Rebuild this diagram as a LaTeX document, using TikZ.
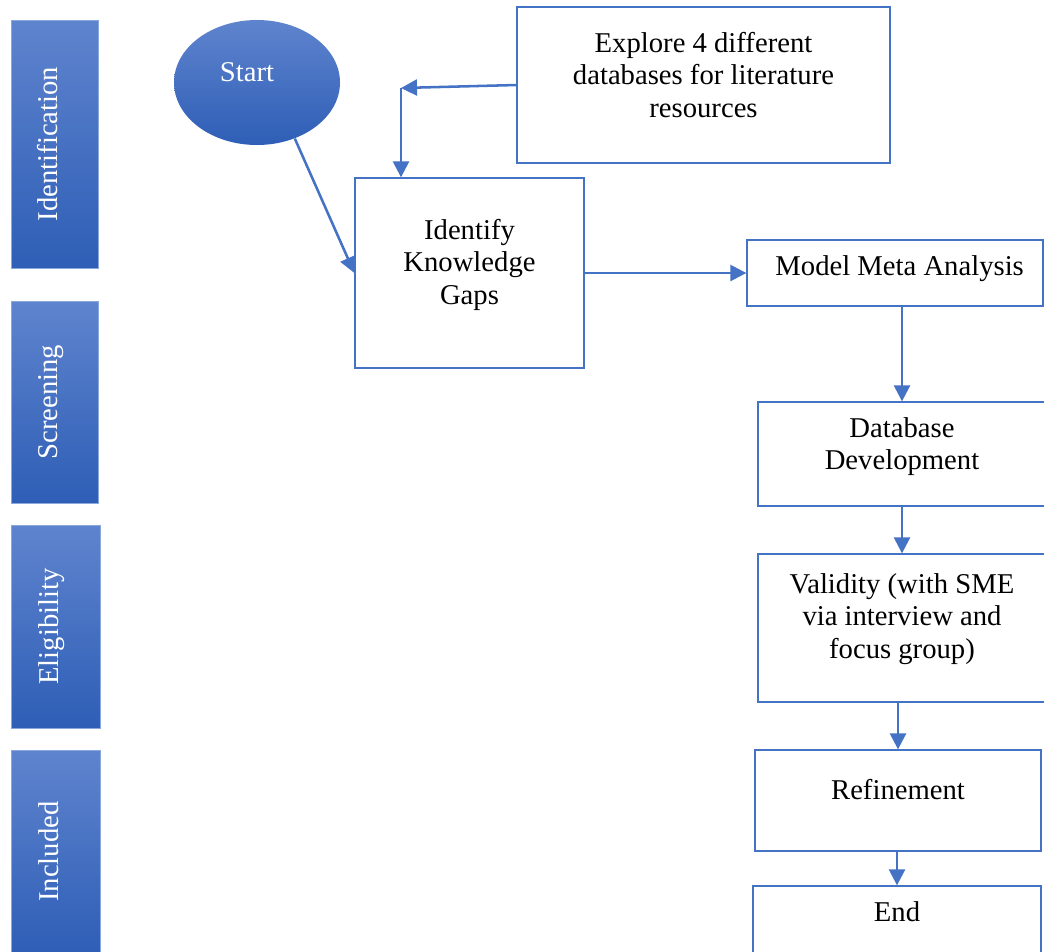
\documentclass[tikz,border=0pt]{standalone}
\usepackage{xcolor}
\usepackage{fontspec}
\setmainfont{Liberation Serif}
\usepackage{tikz}
\usetikzlibrary{arrows.meta,shapes.geometric}

\definecolor{flowblue}{HTML}{4472C4}
\definecolor{phasetop}{HTML}{5F84CE}
\definecolor{phasebot}{HTML}{2E5EB6}
\definecolor{phaseline}{HTML}{8AA8DE}

% text of a box, hung from the top: {width}{height}{first baseline}{text}
\newcommand{\boxtext}[4]{\begin{minipage}[c][#2][t]{#1}\centering\rule{0pt}{#3}#4\end{minipage}}
% text of a phase bar, turned upright
\newcommand{\phasetext}[1]{\rotatebox{90}{\strut #1}\kern6pt}

\begin{document}
\begin{tikzpicture}[x=0.75pt,y=-0.75pt,
	flow/.style={-{Triangle[length=12pt,width=12pt]}, line width=1.9pt, draw=flowblue},
	stepbox/.style={draw=flowblue, line width=1pt, fill=white, inner sep=0pt,
		font=\fontsize{21.5pt}{24.4pt}\selectfont},
	phase/.style={draw=phaseline, line width=0.6pt, top color=phasetop, bottom color=phasebot,
		text=white, inner sep=0pt, font=\fontsize{21.5pt}{24.4pt}\selectfont},
	]

	% page
	\useasboundingbox (0,0) rectangle (1044,951);

	% phase bars
	\node[phase, minimum width=65.25pt, minimum height=186pt] (ident) at (54.5,144) {\phasetext{Identification}};
	\node[phase, minimum width=65.25pt, minimum height=151.5pt] (screen) at (54.5,402) {\phasetext{Screening}};
	\node[phase, minimum width=66.75pt, minimum height=152.25pt] (elig) at (55.5,626.5) {\phasetext{Eligibility}};
	\node[phase, minimum width=66.75pt, minimum height=152.25pt] (incl) at (55.5,851.5) {\phasetext{Included}};

	% start
	\node[phase, ellipse, draw=none, minimum width=124.5pt, minimum height=93.75pt] (start) at (257,82.5)
		{\raisebox{1.1pt}[0pt][0pt]{Start}\kern15pt};

	% boxes
	\node[stepbox] (explore) at (703.5,85)
		{\boxtext{279.75pt}{117pt}{33.75pt}{Explore 4 different\\ databases for literature\\ resources}};
	\node[stepbox] (identify) at (469.5,273)
		{\boxtext{171.75pt}{142.5pt}{45.75pt}{Identify\\ Knowledge\\ Gaps}};
	\node[stepbox] (model) at (895,273)
		{\boxtext{222pt}{49.5pt}{26.25pt}{\hspace*{7pt}Model Meta Analysis}};
	\node[stepbox] (dbdev) at (902,454)
		{\boxtext{216pt}{78pt}{26.25pt}{Database\\ Development}};
	\node[stepbox] (validity) at (902,628)
		{\boxtext{216pt}{111pt}{29.25pt}{Validity (with SME\\ via interview and\\ focus group)}};
	\node[stepbox] (refine) at (898,800.5)
		{\boxtext{214.5pt}{75.75pt}{36.75pt}{Refinement}};
	\node[stepbox] (finish) at (897,923)
		{\boxtext{216pt}{55.5pt}{26.25pt}{End}};

	% elbow from the databases box
	\coordinate (elbow) at (401,88);

	% connectors
	\draw[flow] (explore.west) -- (elbow);
	\draw[flow] (elbow) -- (elbow |- identify.north);
	\draw[flow] (start.-56) -- (identify.west);
	\draw[flow] (identify.east) -- (model.west);
	\draw[flow] (model.south -| dbdev.north) -- (dbdev.north);
	\draw[flow] (dbdev.south) -- (validity.north);
	\draw[flow] (validity.south -| refine.north) -- (refine.north);
	\draw[flow] (refine.south -| finish.north) -- (finish.north);

\end{tikzpicture}
\end{document}
